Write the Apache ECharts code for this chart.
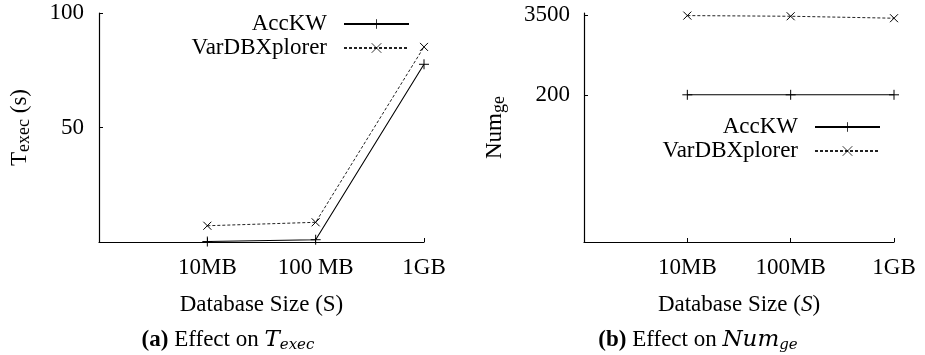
<!DOCTYPE html>
<html>
<head>
<meta charset="utf-8">
<script src="https://cdn.jsdelivr.net/npm/echarts@6/dist/echarts.min.js"></script>
<style>html,body{margin:0;padding:0;background:#fff}#c{width:925px;height:355px}</style>
</head>
<body>
<div id="c"></div>
<script>
// ---- data ----
const categoriesA = ['10MB', '100 MB', '1GB'];
const categoriesB = ['10MB', '100MB', '1GB'];
const accKwTime = [0.2, 1.0, 77.6];
const varDbxTime = [7.1, 8.6, 85.2];
const accKwNum = [200, 200, 200];
const varDbxNum = [3460, 3380, 3150];
const timeTicks = [50, 100];
const numTicks = [200, 3500];
const seriesNames = ['AccKW', 'VarDBXplorer'];

const FONT = 'Liberation Serif';
const MATH = 'DejaVu Serif';
const plus = 'path://M0,5L10,5M5,0L5,10';
const cross = 'path://M0,0L10,10M10,0L0,10';

function pts(vals) { return vals.map((v, i) => [i + 1, v]); }

const xAxisBase = (cats, gridIndex, nameText) => ({
  type: 'value', gridIndex, min: 0, max: 3, interval: 1,
  axisLine: { lineStyle: { color: '#000', width: 1.2 } },
  axisTick: { inside: true, length: 4, lineStyle: { color: '#000' } },
  splitLine: { show: false },
  axisLabel: {
    margin: 14, color: '#000', fontFamily: FONT, fontSize: 23,
    formatter: v => (v >= 1 ? cats[v - 1] : '')
  },
  name: nameText, nameLocation: 'middle', nameGap: 51,
  nameTextStyle: { color: '#000', fontFamily: FONT, fontSize: 23,
    rich: { i: { fontFamily: FONT, fontSize: 23, fontStyle: 'italic', color: '#000' } } }
});

const lineSeries = (name, vals, xi, yi, dashed) => ({
  name, type: 'line', xAxisIndex: xi, yAxisIndex: yi, data: pts(vals),
  symbol: dashed ? cross : plus, symbolSize: dashed ? 8 : 10,
  itemStyle: { color: 'transparent', borderColor: '#000', borderWidth: 1 },
  lineStyle: dashed ? { color: '#222', width: 1, type: [3, 2] } : { color: '#000', width: 1.1 },
  emphasis: { disabled: true }, animation: false, silent: true
});

const legendBase = (right, top) => ({
  orient: 'vertical', align: 'right', right, top, padding: 0, itemGap: 0,
  itemWidth: 65, itemHeight: 12, selectedMode: false, data: seriesNames,
  itemStyle: { color: 'transparent', borderColor: '#000', borderWidth: 0.8 },
  formatter: '{t|{name}}',
  textStyle: { color: '#000', fontFamily: FONT, fontSize: 23, lineHeight: 24,
    rich: { t: { fontFamily: FONT, fontSize: 23, color: '#000', lineHeight: 24, padding: [0, 12, 0, 0] } } }
});

const subRich = {
  m: { fontFamily: FONT, fontSize: 23, color: '#000', lineHeight: 26 },
  s: { fontFamily: FONT, fontSize: 18, color: '#000', lineHeight: 10, verticalAlign: 'bottom' }
};

const captionRich = {
  b: { fontFamily: FONT, fontSize: 23, fontWeight: 'bold', fill: '#000', lineHeight: 26 },
  r: { fontFamily: FONT, fontSize: 23, fill: '#000', lineHeight: 26 },
  i: { fontFamily: MATH, fontSize: 23, fontStyle: 'italic', fill: '#000', lineHeight: 26 },
  si: { fontFamily: MATH, fontSize: 15, fontStyle: 'italic', fill: '#000', lineHeight: 10, verticalAlign: 'bottom' }
};

const chart = echarts.init(document.getElementById('c'), null, { renderer: 'canvas' });
chart.setOption({
  animation: false,
  grid: [
    { left: 99, top: 13, width: 325, height: 229 },
    { left: 584, top: 13, width: 310, height: 229 }
  ],
  xAxis: [
    xAxisBase(categoriesA, 0, 'Database Size (S)'),
    xAxisBase(categoriesB, 1, 'Database Size ({i|S})')
  ],
  yAxis: [
    { type: 'value', gridIndex: 0, min: 0, max: 100, interval: 50,
      axisLine: { show: true, lineStyle: { color: '#000', width: 1.2 } },
      axisTick: { show: true, inside: true, length: 4, lineStyle: { color: '#000' } },
      splitLine: { show: false },
      axisLabel: { margin: 15, color: '#000', fontFamily: FONT, fontSize: 23,
        formatter: v => (timeTicks.indexOf(v) >= 0 ? String(v) : '') },
      name: '{m|T}{s|exec}{m| (s)}', nameLocation: 'middle', nameRotate: 90, nameGap: 66,
      nameTextStyle: { rich: subRich } },
    { type: 'log', gridIndex: 1, min: 1, max: 3800, logBase: 10,
      axisLine: { show: true, lineStyle: { color: '#000', width: 1.2 } },
      axisTick: { show: true, inside: true, length: 4, lineStyle: { color: '#000' }, customValues: numTicks },
      splitLine: { show: false },
      axisLabel: { margin: 14, color: '#000', fontFamily: FONT, fontSize: 23, customValues: numTicks,
        formatter: v => String(Math.round(v)) },
      name: '{m|Num}{s|ge}', nameLocation: 'middle', nameRotate: 90, nameGap: 76,
      nameTextStyle: { rich: subRich } }
  ],
  legend: [legendBase(515, 12), legendBase(44, 115)],
  series: [
    lineSeries(seriesNames[0], accKwTime, 0, 0, false),
    lineSeries(seriesNames[1], varDbxTime, 0, 0, true),
    lineSeries(seriesNames[0], accKwNum, 1, 1, false),
    lineSeries(seriesNames[1], varDbxNum, 1, 1, true)
  ],
  graphic: [
    { type: 'text', x: 228, y: 340, style: {
      text: '{b|(a)}{r| Effect on }{i|T}{si|exec}', align: 'center', verticalAlign: 'middle',
      rich: captionRich } },
    { type: 'text', x: 698, y: 340, style: {
      text: '{b|(b)}{r| Effect on }{i|Num}{si|ge}', align: 'center', verticalAlign: 'middle',
      rich: captionRich } }
  ]
});
</script>
</body>
</html>
